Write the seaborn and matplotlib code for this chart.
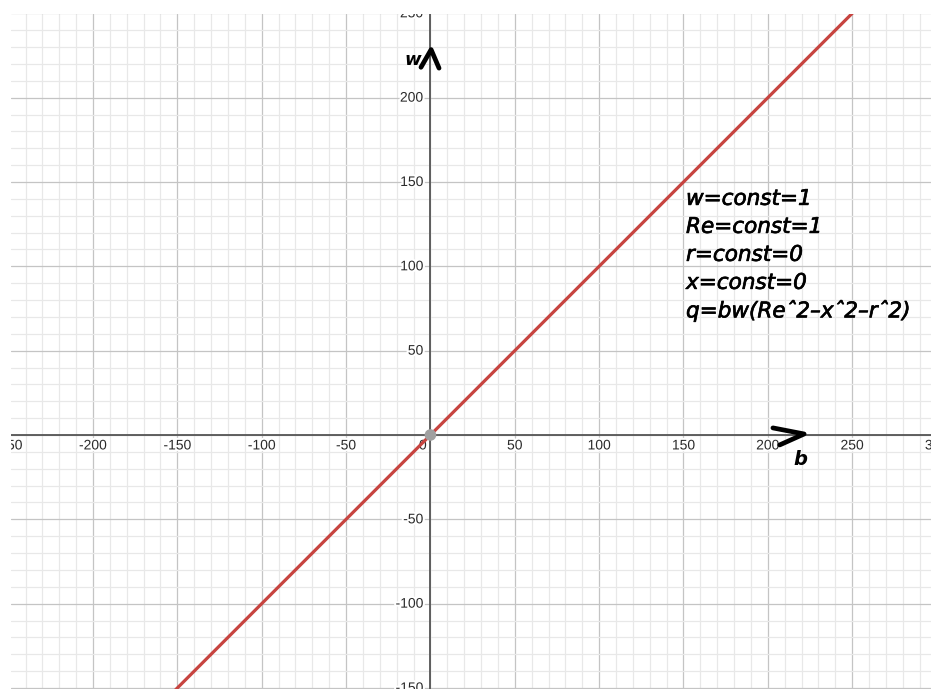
import numpy as np
import pandas as pd
import seaborn as sns
import matplotlib.pyplot as plt
import matplotlib.patheffects as pe

# line w = b (w=const=1, Re=1, r=0, x=0)
b_vals = [-200, 300]
w_vals = [-200, 300]
origin_b = [0]
origin_w = [0]

x_ticks = [-250, -200, -150, -100, -50, 50, 100, 150, 200, 250, 300]
y_ticks = [-150, -100, -50, 50, 100, 150, 200, 250]

notes = ["w=const=1", "Re=const=1", "r=const=0", "x=const=0",
         "q=bw(Re\u02c62\u2013x\u02c62\u2013r\u02c62)"]

# hand drawn arrow strokes (data coords)
arrow_up_b = [-5.6, 0.4, 5.1]
arrow_up_w = [218, 228.5, 217.5]
arrow_right_b = [203, 221.5, 207]
arrow_right_w = [4.2, 0.6, -5.9]

df = pd.DataFrame({"b": b_vals, "w": w_vals})

sns.set_style("white")
plt.rcParams['font.family'] = ['Liberation Sans', 'DejaVu Sans']

fig = plt.figure(figsize=(9.31, 6.89), dpi=100)
ax = fig.add_axes([11 / 931, 0, 920 / 931, 675 / 689])
ax.set_xlim(-248.6, 296.7)
ax.set_ylim(-150.6, 249.6)

# grid
for v in np.arange(-240, 300, 10):
    ax.axvline(v, color="#e8e8e8" if v % 50 else "#c4c4c4", lw=0.9, zorder=0)
for v in np.arange(-150, 260, 10):
    ax.axhline(v, color="#e8e8e8" if v % 50 else "#c4c4c4", lw=0.9, zorder=0)
ax.axhline(0, color="#555555", lw=1.3, zorder=1)
ax.axvline(0, color="#555555", lw=1.3, zorder=1)
for s in ax.spines.values():
    s.set_visible(False)
ax.set_xticks([])
ax.set_yticks([])

halo = [pe.withStroke(linewidth=3, foreground="white")]
for t in x_ticks:
    ax.text(t, -6.2, str(t), ha="center", va="center",
            fontsize=10, color="#2a2a2a", path_effects=halo, clip_on=True, zorder=3)
for t in y_ticks:
    ax.text(-4.2, t, str(t), ha="right", va="center",
            fontsize=10, color="#2a2a2a", path_effects=halo, clip_on=True, zorder=3)
ax.text(-4.5, -6.2, "0", ha="center", va="center", fontsize=10, color="#2a2a2a",
        path_effects=halo, zorder=3)

sns.lineplot(data=df, x="b", y="w", color="#c74440", lw=2.3, ax=ax, zorder=4)
ax.scatter(origin_b, origin_w, s=70, color="#a0a0a0", zorder=5, edgecolor="none")
ax.set_xlabel("")
ax.set_ylabel("")

# hand drawn axis arrows and labels
ax.plot(arrow_up_b, arrow_up_w, color="black", lw=3.4, solid_capstyle="round",
        solid_joinstyle="round", zorder=6)
ax.plot(arrow_right_b, arrow_right_w, color="black", lw=3.4, solid_capstyle="round",
        solid_joinstyle="round", zorder=6)
ax.text(-5.5, 222.5, "w", fontsize=13, style="italic", fontweight="bold", ha="right",
        va="center", color="black", zorder=6, family=["DejaVu Sans"])
ax.text(219, -14.5, "b", fontsize=14, style="italic", fontweight="bold", ha="center",
        va="center", color="black", zorder=6, family=["DejaVu Sans"])

for i, line in enumerate(notes):
    ax.text(151.5, 140 - i * 16.6, line, fontsize=15.5, style="italic",
            ha="left", va="center", color="black", zorder=6,
            family=["DejaVu Sans"],
            path_effects=[pe.withStroke(linewidth=0.5, foreground="black")])

fig.savefig("out.png", dpi=100, facecolor="white")
